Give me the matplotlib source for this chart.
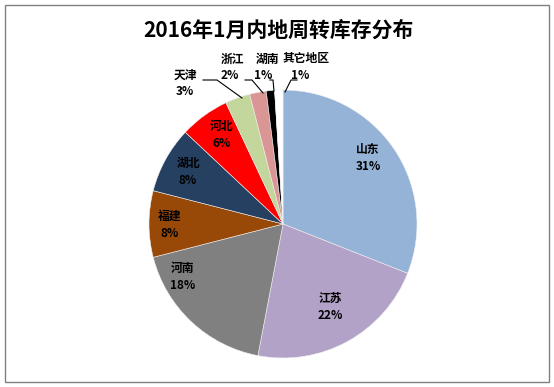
import matplotlib.pyplot as plt
from matplotlib.patches import Rectangle

plt.rcParams['font.family'] = ['Noto Sans CJK SC', 'DejaVu Sans']

title = '2016年1月内地周转库存分布'
regions = ['山东', '江苏', '河南', '福建', '湖北', '河北', '天津', '浙江', '湖南', '其它地区']
shares = [31, 22, 18, 8, 8, 6, 3, 2, 1, 1]
colors = ['#95B3D7', '#B3A2C7', '#808080', '#984807', '#254061',
          '#FF0000', '#C3D69B', '#D99694', '#000000', '#FFFFFF']

W, H = 554, 387
CX, CY, R = 283, 224, 134


def px(x, y):
    # pixel position (from top-left) -> data coords of the pie axes
    return (x - CX) / R, (CY - y) / R


fig = plt.figure(figsize=(W / 100, H / 100), dpi=100)
ax = fig.add_axes([0, 0, 1, 1])

ax.pie(shares, colors=colors, startangle=90, counterclock=False,
       radius=1.0, wedgeprops=dict(linewidth=0.4, edgecolor='#F0F0F0'))

ax.set_aspect('auto')
ax.set_xlim(px(0, 0)[0], px(W, 0)[0])
ax.set_ylim(px(0, H)[1], px(0, 0)[1])
ax.axis('off')

# inside labels (pixel positions of label centers)
inside = {
    '山东': (368, 158),
    '江苏': (330, 307),
    '河南': (183, 277),
    '福建': (170, 225),
    '湖北': (188, 172),
    '河北': (222, 135),
}
for name, share in zip(regions, shares):
    if name in inside:
        x, y = inside[name]
        ax.text(*px(x, y), f'{name}\n{share}%', ha='center', va='center',
                fontsize=8.5, fontweight='bold', color='k', linespacing=1.45)

# outside labels with leader lines
outside = {
    '天津': ((185, 75), (185, 92), [(203, 80), (217, 80), (242, 98)]),
    '浙江': ((232, 59), (230, 76), [(245, 80), (252, 80), (263, 93)]),
    '湖南': ((267, 59), (263, 76), [(270, 80), (273, 80), (274, 91)]),
    '其它地区': ((306, 59), (300, 76), [(297, 80), (291, 80), (285, 92)]),
}
for name, share in zip(regions, shares):
    if name in outside:
        (nx_, ny_), (px_, py_), line = outside[name]
        ax.text(*px(nx_, ny_), name, ha='center', va='center',
                fontsize=8.5, fontweight='bold')
        ax.text(*px(px_, py_), f'{share}%', ha='center', va='center',
                fontsize=8.5, fontweight='bold')
        pts = [px(a, b) for a, b in line]
        ax.plot([p[0] for p in pts], [p[1] for p in pts], color='k', lw=0.8)

fig.text(0.5 + 1 / W, 1 - 30 / H, title, ha='center', va='center',
         fontsize=15, fontweight='bold')

fig.patches.append(Rectangle((5 / W, 5 / H), 544 / W, 377 / H,
                             transform=fig.transFigure, fill=False,
                             edgecolor='#808080', lw=1))

fig.savefig('out.png', dpi=100)
